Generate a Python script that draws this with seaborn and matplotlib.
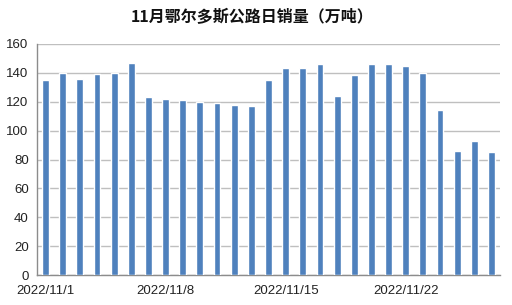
import matplotlib
matplotlib.use("Agg")
import matplotlib.pyplot as plt
import seaborn as sns
import pandas as pd

days = [f"2022/11/{d}" for d in range(1, 28)]
values = [135, 140, 136, 139, 140, 147, 123, 122, 121, 120, 119, 118, 117,
          135, 143.5, 143.5, 146, 124, 138.5, 146, 146, 145, 140, 114, 86, 93, 85]
tick_labels = ["2022/11/1", "2022/11/8", "2022/11/15", "2022/11/22"]
yticks = [0, 20, 40, 60, 80, 100, 120, 140, 160]

sns.set_style("white")
plt.rcParams['font.family'] = ['Liberation Sans', 'Noto Sans CJK SC', 'DejaVu Sans']

df = pd.DataFrame({"day": days, "value": values})

fig = plt.figure(figsize=(5.12, 3.05), dpi=100)
ax = fig.add_axes([37/512, 1-275/305, (500-37)/512, (275-44)/305])
sns.barplot(data=df, x="day", y="value", color="#4F81BD", saturation=1,
            width=0.4, ax=ax, zorder=3)

ax.set_xlim(-0.5, len(days) - 0.5)
ax.set_ylim(0, 160)
ax.set_yticks(yticks)
ax.set_yticklabels([str(v) for v in yticks])
pos = [days.index(t) for t in tick_labels]
ax.set_xticks(pos)
ax.set_xticklabels(tick_labels)
ax.set_xticks([p - 0.5 for p in pos], minor=True)
ax.grid(axis="y", color="#BFBFBF", linewidth=1, zorder=0)
ax.set_xlabel("")
ax.set_ylabel("")
for s in ["top", "right"]:
    ax.spines[s].set_visible(False)
for s in ["left", "bottom"]:
    ax.spines[s].set_color("#8C8C8C")
    ax.spines[s].set_linewidth(1)
ax.tick_params(axis="both", length=3, width=1, color="#8C8C8C",
               labelsize=9.5, labelcolor="#222222", pad=3)
ax.tick_params(axis="x", which="major", length=0, pad=7)
ax.tick_params(axis="x", which="minor", length=3, width=1, color="#8C8C8C")

fig.text(252/512, 1-17/305, "11月鄂尔多斯公路日销量（万吨）", ha="center", va="center",
         fontsize=11.5, fontweight="bold", family=["Noto Sans CJK SC", "DejaVu Sans"],
         color="#111111")

fig.savefig("out.png", dpi=100)
